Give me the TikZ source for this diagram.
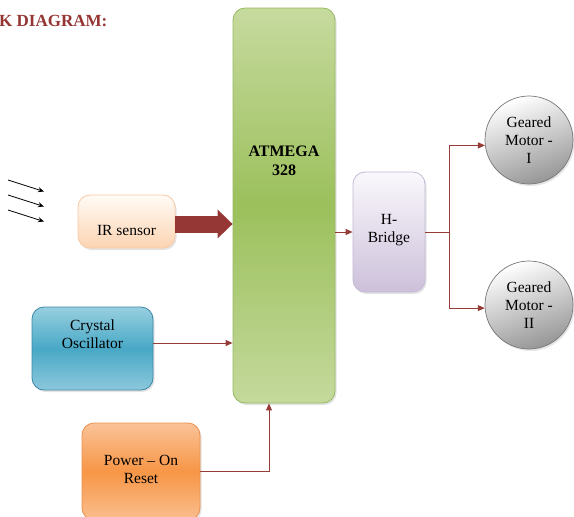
\documentclass[tikz,border=0pt]{standalone}
\usepackage{fontspec}
\setmainfont{Liberation Serif}
\usetikzlibrary{arrows.meta,shadows,calc}
\definecolor{conn}{RGB}{150,60,55}
\definecolor{bigarrow}{RGB}{149,55,53}
\definecolor{titlecol}{RGB}{148,54,52}
\definecolor{gTop}{RGB}{198,218,158}
\definecolor{gMid}{RGB}{156,192,92}
\definecolor{gBot}{RGB}{196,217,156}
\definecolor{gBorder}{RGB}{150,185,95}
\definecolor{bTop}{RGB}{152,207,224}
\definecolor{bMid}{RGB}{72,168,198}
\definecolor{bBot}{RGB}{140,200,220}
\definecolor{bBorder}{RGB}{60,135,165}
\definecolor{oTop}{RGB}{250,194,152}
\definecolor{oMid}{RGB}{247,150,70}
\definecolor{oBot}{RGB}{250,190,142}
\definecolor{oBorder}{RGB}{235,145,80}
\definecolor{pTop}{RGB}{255,251,246}
\definecolor{pBot}{RGB}{252,212,178}
\definecolor{pBorder}{RGB}{248,200,165}
\definecolor{lTop}{RGB}{250,248,252}
\definecolor{lBot}{RGB}{204,192,218}
\definecolor{lBorder}{RGB}{195,185,212}
\definecolor{cBot}{RGB}{150,150,150}
\definecolor{cBorder}{RGB}{120,120,120}
\begin{document}
\begin{tikzpicture}[x=1pt,y=-1pt,
  txt/.style={font=\fontsize{15.5}{18}\selectfont, align=center},
  box/.style={rectangle, rounded corners=12pt, draw=#1, line width=0.8pt, inner sep=0pt,
    drop shadow={opacity=0.22, shadow xshift=1.5pt, shadow yshift=-2pt}},
  conn/.style={draw=conn, line width=0.9pt, -{Triangle[length=7pt,width=6pt]}},
  ray/.style={draw=black, line width=0.8pt, -{Stealth[length=6pt,width=5pt]}},
  motor/.style={circle, draw=cBorder, line width=0.7pt, minimum size=88pt, inner sep=0pt,
    top color=white, bottom color=cBot, shading angle=20, txt,
    drop shadow={opacity=0.2, shadow xshift=1.5pt, shadow yshift=-2pt}}
]
\useasboundingbox (0,0) rectangle (574,517);

% title
\node[anchor=base west, inner sep=0pt, text=titlecol, font=\bfseries\fontsize{17}{20}\selectfont] (title) at (-1,26) {K DIAGRAM:};

% ATMEGA
\node[box=gBorder, minimum width=102pt, minimum height=395pt, top color=gTop, bottom color=gBot, middle color=gMid] (at) at (284,205.5) {};
\node[txt, font=\bfseries\fontsize{16}{18.5}\selectfont, inner sep=0pt] (atl) at (284,161) {ATMEGA\\328};

% IR sensor
\node[box=pBorder, minimum width=97pt, minimum height=53pt, top color=pTop, bottom color=pBot] (ir) at (126.5,221.5) {};
\node[txt, inner sep=0pt] (irl) at (126.5,230) {IR sensor};

% Crystal oscillator
\node[box=bBorder, minimum width=121pt, minimum height=83pt, top color=bTop, bottom color=bBot, middle color=bMid] (cr) at (92.5,348.5) {};
\node[txt, inner sep=0pt] (crl) at (92.5,334) {Crystal\\Oscillator};

% Power on reset
\node[box=oBorder, minimum width=118pt, minimum height=97pt, top color=oTop, bottom color=oBot, middle color=oMid] (pw) at (141,471.5) {};
\node[txt, inner sep=0pt] (pwl) at (141,469) {Power -- On\\Reset};

% H-Bridge
\node[box=lBorder, minimum width=72pt, minimum height=120pt, top color=lTop, bottom color=lBot] (hb) at (389,232) {};
\node[txt, inner sep=0pt] (hbl) at (389,230) {H-\\Bridge};

% motors
\node[motor] (m1) at (529,140) {Geared\\Motor -\\I};
\node[motor] (m2) at (529,305) {Geared\\Motor -\\II};

% IR rays
\coordinate (r1a) at (8,180); \coordinate (r1b) at (44,191.5);
\coordinate (r2a) at (8,195); \coordinate (r2b) at (44,206.5);
\coordinate (r3a) at (8,210); \coordinate (r3b) at (44,221.5);
\draw[ray] (r1a) -- (r1b);
\draw[ray] (r2a) -- (r2b);
\draw[ray] (r3a) -- (r3b);

% big arrow IR -> ATMEGA
\coordinate (irout) at ([yshift=-2.5pt]ir.east);
\draw[bigarrow, line width=17pt, -{Triangle[length=15pt,width=28pt]}] (irout) -- (irout -| at.west);

% crystal -> ATMEGA
\coordinate (crout) at ([yshift=5.5pt]cr.east);
\draw[conn] (crout) -- (crout -| at.west);

% power -> ATMEGA
\draw[conn] (pw.east) -| ([xshift=-15pt]at.south);

% ATMEGA -> H-bridge
\draw[conn] (hb.west -| at.east) -- (hb.west);

% H-bridge -> motors
\coordinate (sp) at ($(hb.east)+(24,0)$);
\draw[draw=conn, line width=0.9pt] (hb.east) -- (sp);
\draw[conn] (sp) |- (m1.187);
\draw[conn] (sp) |- (m2.184);
\end{tikzpicture}
\end{document}
